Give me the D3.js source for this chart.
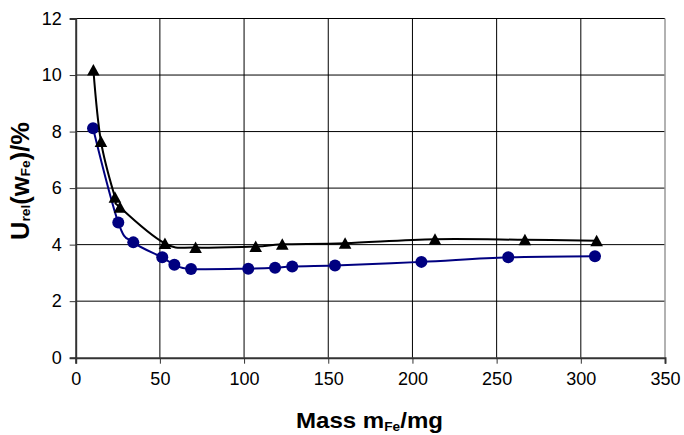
<!DOCTYPE html>
<html><head><meta charset="utf-8">
<script src="https://cdn.jsdelivr.net/npm/d3@7"></script>
<style>body{margin:0;background:#fff}svg{display:block}text{font-family:Arial,"Liberation Sans",sans-serif}</style>
</head><body><svg id="c" width="684" height="435"></svg>
<script>
const circleX = [10.3, 25.3, 34.2, 51.4, 58.6, 68.5, 102.5, 118.4, 128.6, 154, 205.3, 256.9, 308.4];
const circleY = [8.12, 4.78, 4.08, 3.55, 3.29, 3.14, 3.15, 3.18, 3.23, 3.26, 3.39, 3.55, 3.59];
const triX = [10.5, 15, 23.3, 26.3, 53, 71.2, 106.9, 122.7, 160, 213.4, 266.8, 309.4];
const triY = [10.18, 7.65, 5.68, 5.32, 4.04, 3.9, 3.93, 4.01, 4.05, 4.19, 4.17, 4.14];
const xTicks = [0, 50, 100, 150, 200, 250, 300, 350];
const yTicks = [0, 2, 4, 6, 8, 10, 12];

const svg = d3.select("#c");
const L = 75.7, R = 665, T = 18.5, B = 357.7;
const x = d3.scaleLinear().domain([0, 350]).range([L, R]);
const y = d3.scaleLinear().domain([0, 12]).range([B, T]);

// gridlines
svg.append("g").selectAll("line").data(xTicks.slice(1, -1)).join("line")
  .attr("x1", d => x(d)).attr("x2", d => x(d)).attr("y1", T).attr("y2", B)
  .attr("stroke", "#000").attr("stroke-width", 1);
svg.append("g").selectAll("line").data(yTicks.slice(1)).join("line")
  .attr("x1", L).attr("x2", R).attr("y1", d => y(d)).attr("y2", d => y(d))
  .attr("stroke", "#000").attr("stroke-width", 1);
// right border
svg.append("line").attr("x1", R).attr("x2", R).attr("y1", T).attr("y2", B)
  .attr("stroke", "#999").attr("stroke-width", 1.5);

// axes
const xAxis = d3.axisBottom(x).tickValues(xTicks).tickSize(6).tickPadding(9);
const yAxis = d3.axisLeft(y).tickValues(yTicks).tickSize(6).tickPadding(8);
const gx = svg.append("g").attr("transform", `translate(0,${B})`).call(xAxis);
const gy = svg.append("g").attr("transform", `translate(${L},0)`).call(yAxis);
[gx, gy].forEach(g => {
  g.select(".domain").attr("stroke", "#333").attr("stroke-width", 2);
  g.selectAll(".tick line").attr("stroke", "#333").attr("stroke-width", 1);
  g.selectAll(".tick text").attr("font-size", 18).attr("fill", "#000")
    .attr("font-family", "Arial, 'Liberation Sans', sans-serif");
});

// series lines
const line = d3.line().x(d => x(d[0])).y(d => y(d[1])).curve(d3.curveCardinal.tension(0));
const circ = circleX.map((v, i) => [v, circleY[i]]);
const tri = triX.map((v, i) => [v, triY[i]]);

svg.append("path").datum(circ).attr("d", line).attr("fill", "none")
  .attr("stroke", "#000080").attr("stroke-width", 2);
svg.append("g").selectAll("circle").data(circ).join("circle")
  .attr("cx", d => x(d[0])).attr("cy", d => y(d[1])).attr("r", 6).attr("fill", "#000080");

svg.append("path").datum(tri).attr("d", line).attr("fill", "none")
  .attr("stroke", "#000").attr("stroke-width", 2);
svg.append("g").selectAll("path").data(tri).join("path")
  .attr("transform", d => `translate(${x(d[0])},${y(d[1])})`)
  .attr("d", "M0,-6L6.3,5.5L-6.3,5.5Z").attr("fill", "#000");

// axis titles
const xt = svg.append("text").attr("x", 296).attr("y", 428)
  .attr("font-size", 22).attr("font-weight", "bold")
  .attr("textLength", 147).attr("lengthAdjust", "spacingAndGlyphs");
xt.append("tspan").text("Mass m");
xt.append("tspan").attr("font-size", 12.5).attr("dy", 3).text("Fe");
xt.append("tspan").attr("dy", -3).text("/mg");

const yt = svg.append("text").attr("transform", "translate(28.5,240) rotate(-90)")
  .attr("font-size", 25).attr("font-weight", "bold")
  .attr("textLength", 118).attr("lengthAdjust", "spacingAndGlyphs");
yt.append("tspan").text("U");
yt.append("tspan").attr("font-size", 13.5).attr("dy", 1.5).text("rel");
yt.append("tspan").attr("dy", -1.5).text("(w");
yt.append("tspan").attr("font-size", 13.5).attr("dy", 1.5).text("Fe");
yt.append("tspan").attr("dy", -1.5).text(")/%");
</script></body></html>
